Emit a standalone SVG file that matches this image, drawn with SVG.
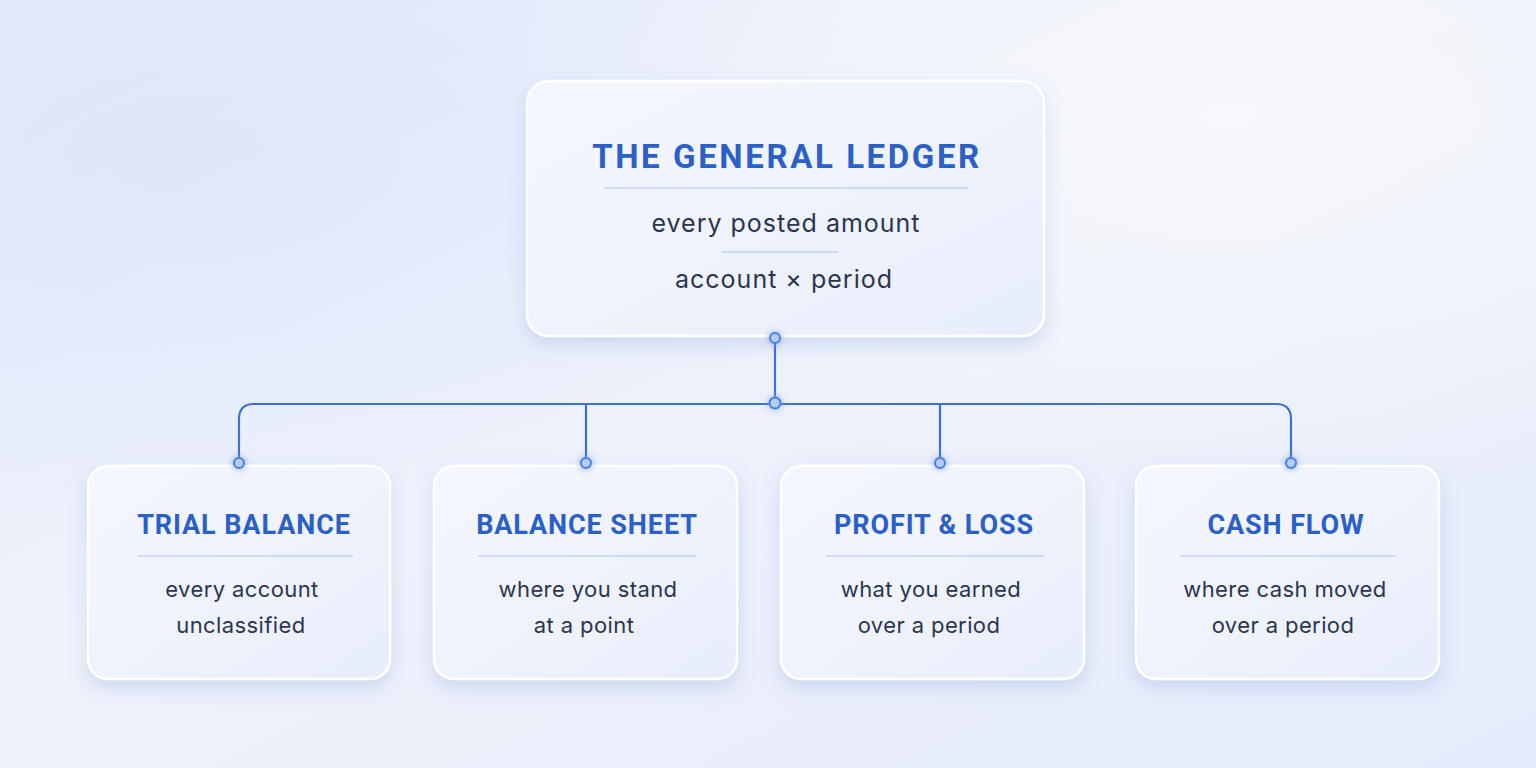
<svg xmlns="http://www.w3.org/2000/svg" width="1536" height="768" viewBox="0 0 1536 768">
<defs>
<linearGradient id="bg" x1="0" y1="0" x2="1" y2="1">
<stop offset="0" stop-color="#e3eafa"/>
<stop offset="0.45" stop-color="#eef2fb"/>
<stop offset="1" stop-color="#e5ebfa"/>
</linearGradient>
<radialGradient id="glowA" cx="0.12" cy="0.2" r="0.5">
<stop offset="0" stop-color="#dbe5fa" stop-opacity="0.7"/>
<stop offset="1" stop-color="#dbe5fa" stop-opacity="0"/>
</radialGradient>
<radialGradient id="glowB" cx="0.8" cy="0.15" r="0.5">
<stop offset="0" stop-color="#f7f8fc" stop-opacity="0.95"/>
<stop offset="1" stop-color="#f7f8fc" stop-opacity="0"/>
</radialGradient>
<linearGradient id="card" x1="0" y1="0" x2="1" y2="1">
<stop offset="0" stop-color="#f4f7fd"/>
<stop offset="0.6" stop-color="#eef2fc"/>
<stop offset="1" stop-color="#e7edfb"/>
</linearGradient>
<filter id="shadow" x="-20%" y="-20%" width="140%" height="150%">
<feGaussianBlur in="SourceAlpha" stdDeviation="9"/>
<feOffset dy="8" result="b"/>
<feFlood flood-color="#7b98d8" flood-opacity="0.28"/>
<feComposite in2="b" operator="in"/>
<feMerge><feMergeNode/><feMergeNode in="SourceGraphic"/></feMerge>
</filter>
<filter id="glow" x="-200%" y="-200%" width="500%" height="500%">
<feGaussianBlur in="SourceGraphic" stdDeviation="3" result="g"/>
<feMerge><feMergeNode in="g"/><feMergeNode in="SourceGraphic"/></feMerge>
</filter>
</defs>
<style>
.card{fill:url(#card);stroke:#ffffff;stroke-width:2.5;filter:url(#shadow)}
.title{font-family:Roboto,"Liberation Sans",sans-serif;font-weight:700;fill:#2a60c8;text-anchor:middle}
.body{font-family:Inter,"Noto Sans","Liberation Sans",sans-serif;fill:#2b3550;text-anchor:middle}
.rule{stroke:#c3d3f0;stroke-width:1.5}
.conn{fill:none;stroke:#3d71d6;stroke-width:2.2;stroke-linecap:round}
.dot{fill:#b3ccf8;stroke:#4a7fe0;stroke-width:2;filter:url(#glow)}
</style>
<rect width="1536" height="768" fill="url(#bg)"/>
<rect width="1536" height="768" fill="url(#glowA)"/>
<rect width="1536" height="768" fill="url(#glowB)"/>

<g id="general-ledger">
<rect class="card" x="527" y="81" width="517" height="255" rx="22"/>
<text class="title" x="787" y="168" font-size="33" letter-spacing="2.6">THE GENERAL LEDGER</text>
<line class="rule" x1="604" y1="188" x2="968" y2="188"/>
<text class="body" x="786" y="232" font-size="25" letter-spacing="1">every posted amount</text>
<line class="rule" x1="722" y1="252" x2="838" y2="252"/>
<text class="body" x="784" y="288" font-size="25" letter-spacing="1">account × period</text>
</g>

<g id="trial-balance">
<rect class="card" x="88" y="466" width="302" height="213" rx="20"/>
<text class="title" x="244" y="534" font-size="27" letter-spacing="0.9">TRIAL BALANCE</text>
<line class="rule" x1="138" y1="556" x2="353" y2="556"/>
<text class="body" x="242" y="597" font-size="22" letter-spacing="0.4">every account</text>
<text class="body" x="241" y="633" font-size="22" letter-spacing="0.4">unclassified</text>
</g>

<g id="balance-sheet">
<rect class="card" x="434" y="466" width="303" height="213" rx="20"/>
<text class="title" x="587" y="534" font-size="27" letter-spacing="0.9">BALANCE SHEET</text>
<line class="rule" x1="478" y1="556" x2="696" y2="556"/>
<text class="body" x="588" y="597" font-size="22" letter-spacing="0.4">where you stand</text>
<text class="body" x="584" y="633" font-size="22" letter-spacing="0.4">at a point</text>
</g>

<g id="profit-loss">
<rect class="card" x="781" y="466" width="303" height="213" rx="20"/>
<text class="title" x="934" y="534" font-size="27" letter-spacing="0.9">PROFIT &amp; LOSS</text>
<line class="rule" x1="826" y1="556" x2="1044" y2="556"/>
<text class="body" x="931" y="597" font-size="22" letter-spacing="0.4">what you earned</text>
<text class="body" x="929" y="633" font-size="22" letter-spacing="0.4">over a period</text>
</g>

<g id="cash-flow">
<rect class="card" x="1136" y="466" width="303" height="213" rx="20"/>
<text class="title" x="1286" y="534" font-size="27" letter-spacing="0.9">CASH FLOW</text>
<line class="rule" x1="1180" y1="556" x2="1396" y2="556"/>
<text class="body" x="1285" y="597" font-size="22" letter-spacing="0.4">where cash moved</text>
<text class="body" x="1283" y="633" font-size="22" letter-spacing="0.4">over a period</text>
</g>

<g id="connectors">
<path class="conn" d="M775 338 V403"/>
<path class="conn" d="M239 463 V419 Q239 404 254 404 H1276 Q1291 404 1291 419 V463"/>
<path class="conn" d="M586 404 V463"/>
<path class="conn" d="M940 404 V463"/>
<circle class="dot" cx="775" cy="338" r="5"/>
<circle class="dot" cx="775" cy="403" r="5.5"/>
<circle class="dot" cx="239" cy="463" r="5"/>
<circle class="dot" cx="586" cy="463" r="5"/>
<circle class="dot" cx="940" cy="463" r="5"/>
<circle class="dot" cx="1291" cy="463" r="5"/>
</g>
</svg>
